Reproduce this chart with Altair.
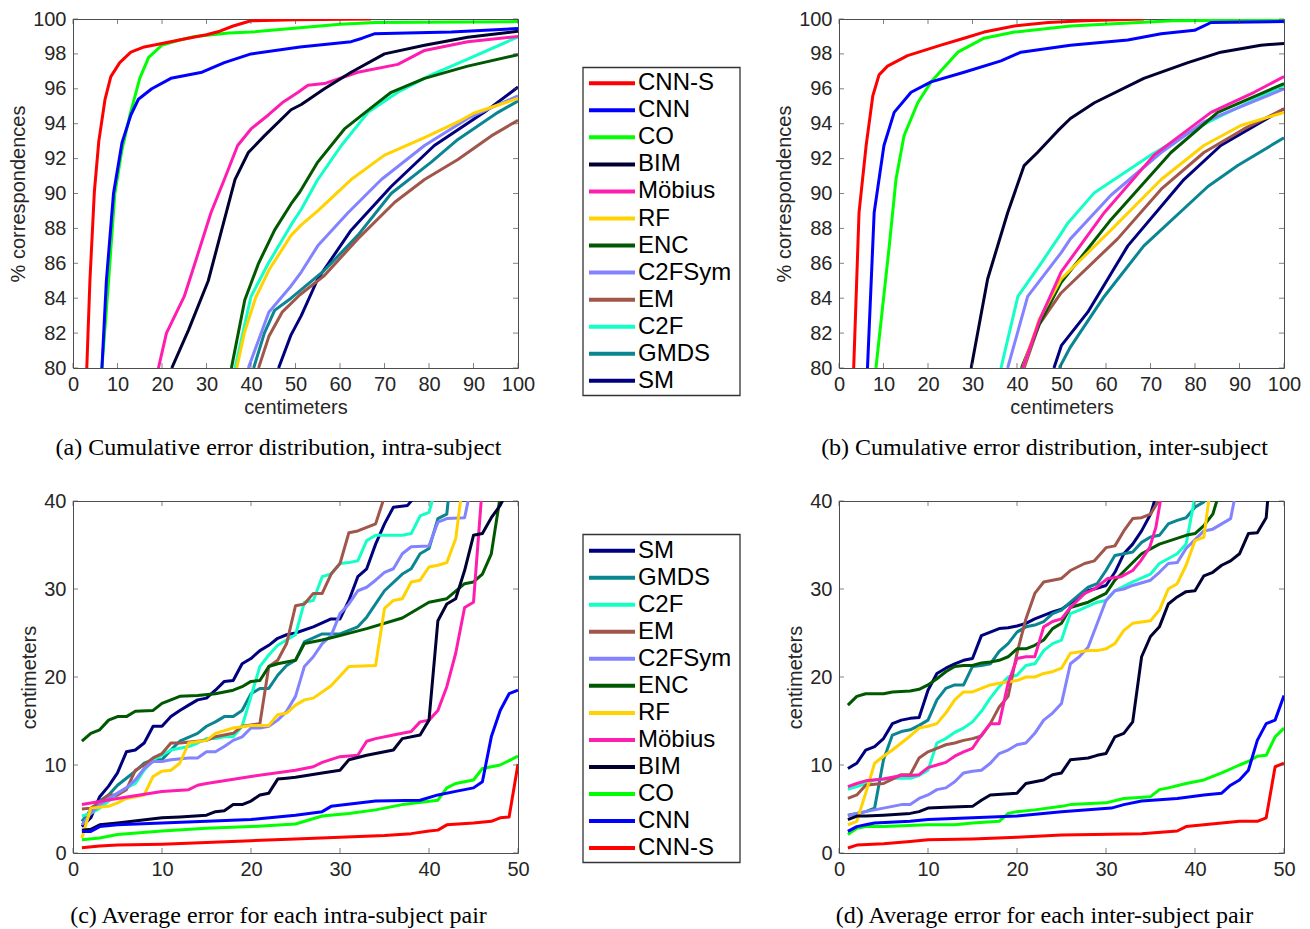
import altair as alt
import pandas as pd

METHODS = ["CNN-S", "CNN", "CO", "BIM", "Möbius", "RF", "ENC", "C2FSym", "EM", "C2F", "GMDS", "SM"]
COLORS = ["#FF0000", "#0000FF", "#00FF00", "#000033", "#FF1DAF", "#FFD200", "#005800",
          "#8383FF", "#A0564A", "#14FFC6", "#0A8592", "#00007F"]
LEGEND_TOP = METHODS
LEGEND_BOTTOM = list(reversed(METHODS))

# ---------------- (a) cumulative error, intra-subject ----------------
A_CNNS = [(3.1, 80), (3.8, 85), (4.8, 90.1), (5.8, 93), (7.2, 95.4), (8.5, 96.7), (10.5, 97.5), (13, 98.1),
          (16, 98.4), (20, 98.6), (25, 98.85), (30, 99.1), (33, 99.3), (36, 99.6), (40, 99.9), (50, 99.95), (67, 100)]
A_CNN = [(6.5, 80), (7.5, 85), (9.1, 90), (11, 92.9), (13, 94.5), (14.7, 95.4), (17.7, 96), (22, 96.6), (29, 96.95),
         (34, 97.5), (40, 98), (51, 98.4), (62.5, 98.7), (65, 98.9), (67.7, 99.15), (75, 99.2), (85, 99.25), (100, 99.45)]
A_CO = [(6.5, 80), (8, 85), (9.4, 90), (11, 92.5), (12.8, 94.5), (15, 96.6), (17, 97.8), (20, 98.5), (24, 98.8),
        (27.4, 99), (35, 99.2), (40, 99.25), (51, 99.5), (60, 99.7), (68, 99.8), (100, 99.85)]
A_BIM = [(22.2, 80), (26, 82.2), (30.4, 85), (33.4, 87.9), (36.4, 90.8), (39.4, 92.35), (43, 93.3), (49, 94.8),
         (51.3, 95.1), (56.5, 96), (62.5, 96.95), (70, 98), (79, 98.5), (88.7, 98.95), (100, 99.3)]
A_MOB = [(19.2, 80), (21, 82), (25, 84.1), (27.4, 86), (31, 88.9), (34, 90.8), (37, 92.75), (40, 93.7), (43.9, 94.5),
         (47, 95.2), (50.6, 95.8), (52.8, 96.2), (56.5, 96.3), (64, 96.95), (73, 97.4), (79, 98.2), (88.7, 98.7), (100, 99.0)]
A_RF = [(36.8, 80), (38.5, 82), (41, 84), (44, 85.6), (47, 86.8), (49, 87.6), (51.3, 88.2), (55, 89.0), (62.5, 90.8),
        (70, 92.2), (79, 93.2), (86.5, 94.1), (90, 94.6), (100, 95.45)]
A_ENC = [(35.6, 80), (38.6, 83.9), (41.7, 86), (45.3, 87.9), (49, 89.4), (51, 90.1), (55, 91.8), (61, 93.7),
         (67.7, 95.05), (71.5, 95.8), (79, 96.6), (88.7, 97.3), (100, 97.95)]
A_C2FSYM = [(39.4, 80), (44, 83.2), (49, 84.7), (51.3, 85.5), (55, 87), (61.8, 88.9), (69.3, 90.8), (79, 92.75),
            (88.7, 94.3), (100, 95.6)]
A_EM = [(41.7, 80), (44, 81.8), (47, 83.2), (51, 84.2), (56.5, 85.3), (64, 87.4), (72.3, 89.5), (79, 90.8),
        (86.5, 91.95), (94, 93.3), (100, 94.2)]
A_C2F = [(36.4, 80), (40, 84.1), (43.9, 86), (49, 88.2), (51.3, 89.1), (55, 90.8), (60.3, 92.75), (66.3, 94.65),
         (73, 95.8), (80.5, 96.8), (88.7, 97.7), (100, 98.97)]
A_GMDS = [(40.6, 80), (43, 82), (45.3, 83.3), (49, 84.0), (56.5, 85.6), (64, 87.6), (71.5, 90), (80.5, 91.8),
          (86.5, 93.1), (95.5, 94.65), (100, 95.3)]
A_SM = [(46.2, 80), (49, 81.9), (51.3, 83), (55, 85.1), (62.5, 87.9), (71.5, 90.4), (81.2, 92.75), (92.4, 94.65),
        (100, 96.1)]

# ---------------- (b) cumulative error, inter-subject ----------------
B_CNNS = [(3.3, 80), (4.5, 88.9), (6.1, 92.75), (7.6, 95.6), (9, 96.8), (10.9, 97.3), (15.4, 97.9), (22.9, 98.5),
          (28.1, 98.9), (32.6, 99.25), (39.4, 99.6), (47, 99.8), (55, 99.9), (68.5, 100)]
B_CNN = [(6.4, 80), (7.9, 88.9), (10.1, 92.75), (12.4, 94.65), (16.2, 95.8), (20.7, 96.4), (28.1, 96.95), (36.4, 97.6),
         (40.9, 98.1), (52, 98.5), (64.9, 98.8), (72.4, 99.15), (79.9, 99.35), (83.6, 99.8), (100, 99.85)]
B_CO = [(8.3, 80), (11.3, 87), (12.8, 90.8), (14.6, 93.3), (17.7, 95.2), (20.7, 96.4), (26.7, 98.1), (32.6, 98.9),
        (39.4, 99.25), (52, 99.6), (75, 99.9), (100, 99.95)]
B_BIM = [(29.7, 80), (33.4, 85.1), (37.9, 88.9), (41.6, 91.6), (44.6, 92.35), (49.2, 93.6), (52, 94.3), (57.4, 95.2),
         (68.5, 96.6), (78.4, 97.5), (85.8, 98.1), (94.8, 98.5), (100, 98.6)]
B_MOB = [(41.3, 80), (45, 82.7), (49.9, 85.5), (59.6, 88.9), (70.8, 92.2), (83.6, 94.65), (93.3, 95.8), (100, 96.7)]
B_RF = [(41.3, 80), (45, 82.8), (49.9, 85.1), (61.1, 87.9), (72.4, 90.8), (82, 92.75), (90.3, 93.9), (100, 94.65)]
B_ENC = [(41, 80), (45, 82.5), (49.9, 84.9), (61.1, 88.5), (74.6, 92.35), (85.1, 94.65), (100, 96.3)]
B_C2FSYM = [(37.9, 80), (42.4, 84.1), (49.9, 86.6), (52, 87.4), (61.1, 89.9), (72.4, 92.35), (82, 94.1), (100, 96.0)]
B_EM = [(41.6, 80), (45, 82.5), (49.9, 84.3), (62.6, 87.4), (72.4, 90.25), (82, 92.35), (91, 93.7), (100, 94.85)]
B_C2F = [(36.4, 80), (40.2, 84.1), (45.4, 86), (49.9, 87.7), (51.4, 88.3), (57.4, 90.05), (70.1, 92.2), (79.9, 93.7),
         (87.4, 94.65), (100, 96.2)]
B_GMDS = [(49.5, 80), (52, 81.2), (59.6, 84.1), (68.5, 87), (82.9, 90.4), (89.6, 91.6), (100, 93.2)]
B_SM = [(48.3, 80), (50, 81.3), (55.9, 83.2), (64.9, 87), (77.5, 90.8), (85.8, 92.75), (100, 94.85)]

# ---------------- (c) average error per intra-subject pair ----------------
C_CNNS = [(1, 0.6), (3, 0.8), (5, 0.9), (10, 1.0), (15, 1.2), (20, 1.4), (25, 1.6), (30, 1.8), (35, 2.0), (38, 2.2),
          (40, 2.5), (41, 2.6), (42, 3.2), (45, 3.4), (47, 3.6), (48, 4.0), (49, 4.1), (50, 10.1)]
C_CNN = [(1, 2.45), (2, 2.45), (3, 3.0), (5, 3.2), (10, 3.4), (15, 3.6), (20, 3.8), (25, 4.3), (28, 4.7), (29, 5.3),
         (34, 5.9), (39, 6.0), (41, 6.6), (43, 7.0), (45, 7.4), (46, 8.1), (47, 13.2), (48, 16.2), (49, 18.1), (50, 18.5)]
C_CO = [(1, 1.5), (3, 1.7), (5, 2.1), (10, 2.5), (15, 2.8), (20, 3.0), (25, 3.3), (28, 4.2), (31, 4.5), (34, 4.9),
        (37, 5.5), (41, 6.0), (42, 7.4), (43, 7.9), (45, 8.3), (46, 9.6), (48, 10.0), (49, 10.5), (50, 11.0)]
C_BIM = [(1, 2.6), (2, 2.7), (3, 3.2), (5, 3.4), (10, 4.0), (12, 4.1), (15, 4.3), (16, 4.7), (17, 4.8), (18, 5.5),
         (19, 5.5), (20, 5.9), (21, 6.6), (22, 6.8), (23, 8.4), (24, 8.5), (25, 8.6), (28, 9.1), (30, 9.4), (31, 10.6),
         (33, 11.1), (36, 11.7), (37, 13.0), (39, 13.4), (40, 15.1), (41, 26.4), (42, 28.3), (43, 28.9), (44, 32.1),
         (45, 36.1), (46, 36.3), (47, 38.1), (48, 39.5), (48.5, 40.5)]
C_MOB = [(1, 5.5), (5, 6.2), (10, 7.0), (13, 7.2), (14, 7.7), (15, 7.9), (20, 8.7), (25, 9.4), (27, 9.8), (28, 10.3),
         (30, 10.95), (32, 11.1), (33, 12.7), (34, 13.0), (36, 13.4), (38, 13.8), (39, 14.9), (40, 15.1), (41, 16.2),
         (42, 18.9), (43, 22.7), (44, 27.9), (45, 28.5), (45.9, 40.5)]
C_RF = [(1, 1.7), (2, 5.1), (4, 5.3), (5, 5.7), (6, 6.2), (8, 6.6), (9, 8.7), (10, 9.3), (11, 9.4), (12, 10.2),
        (13, 12.5), (15, 12.8), (16, 13.6), (18, 14.2), (20, 14.5), (22, 14.5), (23, 15.7), (24, 15.9), (25, 16.8),
        (26, 17.4), (27, 17.6), (29, 19.0), (31, 21.2), (34, 21.3), (35, 27.8), (36, 28.7), (37, 28.9), (38, 30.8),
        (39, 31.0), (40, 32.5), (41, 32.7), (42, 33.0), (43, 35.7), (43.6, 40.5)]
C_ENC = [(1, 12.7), (2, 13.6), (3, 14.0), (4, 15.1), (5, 15.5), (6, 15.5), (7, 16.1), (9, 16.2), (10, 17.0), (12, 17.8),
         (14, 17.9), (16, 18.1), (17, 18.3), (18, 18.5), (19, 18.9), (20, 19.5), (21, 19.6), (22, 21.2), (23, 21.5),
         (24, 21.7), (25, 21.9), (26, 23.8), (28, 24.2), (30, 24.7), (33, 25.5), (37, 26.7), (38, 27.3), (40, 28.5),
         (42, 28.9), (44, 30.6), (45, 30.8), (46, 31.7), (47, 34.0), (48, 40.5)]
C_C2FSYM = [(1, 3.2), (2, 4.5), (3, 5.5), (4, 6.2), (5, 6.8), (6, 7.4), (7, 8.3), (8, 9.6), (9, 10.4), (10, 10.4),
            (11, 10.6), (13, 10.8), (14, 10.8), (15, 11.5), (16, 11.5), (17, 12.1), (18, 12.8), (19, 13.2), (20, 14.2),
            (21, 14.2), (22, 14.4), (23, 15.1), (24, 16.1), (25, 17.8), (26, 21.2), (27, 22.3), (28, 23.8), (29, 24.7),
            (30, 27.2), (31, 28.3), (32, 29.8), (33, 30.2), (34, 31.0), (35, 31.9), (36, 32.3), (37, 34.0), (38, 34.8),
            (40, 34.9), (41, 37.6), (42, 38.0), (44, 38.1), (44.5, 40.5)]
C_EM = [(1, 5.0), (2, 5.1), (3, 5.7), (4, 6.6), (5, 6.6), (6, 7.2), (7, 9.4), (8, 10.0), (9, 10.8), (10, 11.3),
        (11, 12.5), (12, 12.5), (14, 12.7), (15, 12.8), (16, 13.2), (18, 13.6), (19, 14.4), (21, 14.7), (22, 21.2),
        (23, 21.9), (24, 23.8), (25, 28.1), (26, 28.3), (27, 29.5), (28, 29.5), (29, 31.7), (30, 32.9), (31, 36.4),
        (32, 36.6), (34, 37.4), (35, 40.5)]
C_C2F = [(1, 4.2), (2, 4.5), (3, 5.1), (4, 5.9), (5, 6.6), (6, 7.4), (7, 7.9), (8, 9.4), (9, 10.6), (10, 11.1),
         (11, 11.7), (12, 11.9), (13, 12.1), (14, 12.5), (15, 13.0), (16, 13.0), (17, 13.2), (18, 13.2), (19, 14.4),
         (21, 21.2), (22, 22.5), (23, 23.6), (25, 24.8), (26, 28.5), (27, 28.7), (28, 31.4), (29, 31.7), (30, 32.9),
         (31, 33.0), (32, 33.2), (33, 35.5), (34, 36.1), (37, 36.1), (38, 36.3), (39, 38.3), (40, 38.7), (40.5, 40.5)]
C_GMDS = [(1, 3.6), (2, 4.9), (3, 5.9), (4, 6.6), (5, 7.7), (6, 8.5), (7, 9.3), (8, 10.2), (9, 10.6), (10, 10.6),
          (11, 11.7), (12, 12.7), (14, 13.6), (15, 14.4), (16, 14.9), (17, 15.5), (18, 15.5), (19, 16.2), (20, 18.1),
          (21, 18.7), (22, 18.7), (23, 20.2), (24, 21.3), (25, 21.9), (26, 24.0), (28, 24.9), (30, 24.9), (32, 25.7),
          (33, 26.8), (34, 28.3), (35, 29.8), (37, 31.7), (38, 32.3), (39, 34.0), (40, 34.6), (41, 38.0), (42, 38.5),
          (42.2, 40.5)]
C_SM = [(1, 3.0), (2, 4.0), (3, 6.4), (4, 7.6), (5, 9.1), (6, 11.5), (7, 11.7), (8, 12.5), (9, 14.4), (10, 14.4),
        (11, 15.5), (12, 16.2), (13, 16.8), (14, 17.4), (15, 17.6), (16, 18.5), (17, 19.5), (18, 19.6), (19, 21.5),
        (20, 22.1), (21, 23.0), (22, 23.6), (23, 24.4), (24, 24.8), (25, 25.0), (27, 25.7), (29, 26.6), (30, 26.6),
        (31, 28.7), (32, 31.4), (33, 32.3), (34, 35.1), (35, 37.4), (36, 39.3), (37.6, 39.5), (38.4, 40.5)]

# ---------------- (d) average error per inter-subject pair ----------------
D_CNNS = [(1, 0.57), (2, 0.9), (5, 1.06), (8, 1.3), (10, 1.5), (15, 1.6), (20, 1.8), (25, 2.05), (34, 2.2), (38, 2.5),
          (39, 3.0), (41, 3.2), (45, 3.6), (47, 3.6), (48, 4.0), (49, 9.8), (50, 10.2)]
D_CNN = [(1, 2.45), (2, 3.0), (3, 3.2), (4, 3.4), (8, 3.6), (10, 3.8), (15, 4.0), (20, 4.2), (25, 4.7), (30.6, 5.1),
         (32, 5.5), (34, 5.9), (38, 6.2), (41, 6.6), (43, 6.8), (44, 7.7), (45, 8.3), (46, 9.4), (47, 12.8), (48, 14.7),
         (49, 15.1), (50, 17.9)]
D_CO = [(1, 2.1), (2, 2.8), (3, 3.0), (5, 3.0), (10, 3.2), (13, 3.2), (15, 3.4), (18, 3.6), (19, 4.5), (20, 4.7),
        (22, 4.9), (25, 5.3), (26, 5.5), (30, 5.7), (32, 6.2), (35, 6.4), (36, 7.2), (37, 7.4), (39, 7.9), (41, 8.3),
        (43, 9.1), (45, 10.0), (46, 10.4), (47, 11.0), (48, 11.1), (49, 13.2), (50, 14.2)]
D_BIM = [(1, 3.8), (2, 4.2), (3, 4.2), (5, 4.3), (8, 4.5), (9, 4.7), (10, 5.1), (12, 5.2), (15, 5.3), (16, 6.0),
         (17, 6.6), (20, 6.8), (21, 7.9), (22, 8.1), (23, 8.3), (24, 8.9), (25, 9.1), (26, 10.6), (28, 10.8), (29, 11.1),
         (30, 11.3), (31, 13.2), (32, 13.6), (33, 14.9), (34, 22.3), (35, 24.6), (36, 25.7), (37, 28.3), (38, 29.1),
         (39, 29.7), (40, 29.8), (41, 31.5), (42, 31.9), (43, 32.7), (44, 33.2), (45, 34.0), (46, 36.3), (47, 36.4),
         (48, 38.1), (48.2, 40.5)]
D_MOB = [(1, 7.55), (2, 7.9), (3, 8.2), (5, 8.4), (7, 8.8), (8, 8.8), (9, 8.9), (10, 9.7), (11, 10.0), (12, 10.3),
         (13, 11.0), (14, 11.5), (15, 11.9), (16, 13.4), (17, 14.7), (18, 14.7), (19, 19.3), (20, 22.1), (21, 22.3),
         (22, 22.3), (23, 25.7), (24, 26.3), (25, 26.6), (26, 27.9), (27.6, 29.5), (28.7, 30.0), (30.2, 31.2),
         (31.7, 31.4), (33, 32.1), (33.9, 33.2), (34.9, 34.7), (35.6, 37.0), (36.2, 40.5)]
D_RF = [(1, 3.2), (2, 3.6), (3, 6.8), (4, 10.2), (5, 11.0), (6, 11.7), (7, 12.5), (8, 13.3), (9, 14.2), (10, 14.4),
        (11, 14.7), (12, 15.9), (13, 17.4), (14, 18.3), (15, 18.3), (16, 18.7), (17, 19.1), (18, 19.3), (20, 19.6),
        (21, 20.0), (22, 20.0), (23, 20.4), (24, 20.6), (25, 21.0), (26, 22.7), (28, 23.0), (29, 23.0), (30, 23.2),
        (31, 23.8), (32, 25.3), (33, 26.1), (35, 26.4), (36, 27.6), (37, 30.0), (38, 30.6), (39, 32.7), (40, 35.5),
        (41, 35.9), (41.6, 40.5)]
D_ENC = [(1, 16.8), (2, 17.8), (3, 18.1), (5, 18.1), (6, 18.3), (8, 18.4), (9, 18.6), (10, 19.1), (11, 19.8),
         (12, 20.6), (13, 21.2), (14, 21.3), (15, 21.3), (16, 21.6), (17, 21.7), (18, 21.9), (19, 22.3), (20, 23.2),
         (21, 23.2), (22, 23.6), (23, 24.2), (24, 25.5), (25, 26.1), (26, 27.9), (28, 28.5), (30, 29.5), (31, 31.0),
         (34, 34.0), (36, 35.1), (39, 36.1), (40, 36.3), (41, 37.2), (42, 38.5), (42.6, 40.5)]
D_C2FSYM = [(1, 4.2), (2, 4.5), (3, 4.7), (4, 4.9), (5, 5.1), (6, 5.3), (7, 5.5), (8, 5.5), (9, 6.2), (10, 6.6),
            (11, 7.2), (12, 7.4), (13, 8.1), (14, 9.1), (15, 9.3), (16, 9.4), (17, 10.2), (18, 11.3), (19, 11.7),
            (20, 12.3), (21, 12.5), (22, 13.6), (23, 15.1), (24, 15.9), (25, 17.0), (26, 21.5), (27, 22.3), (28, 23.4),
            (30, 28.7), (31, 29.8), (32, 30.0), (33, 30.4), (35, 31.0), (36, 31.9), (37, 32.9), (38, 33.0), (39, 34.6),
            (41, 36.6), (42, 36.8), (44, 38.0), (44.5, 40.5)]
D_EM = [(1, 6.2), (2, 6.6), (3, 7.7), (4, 7.8), (5, 7.9), (6, 8.4), (7, 8.9), (8, 8.9), (9, 10.8), (10, 11.5),
        (11, 11.9), (12, 12.3), (13, 12.5), (14, 12.8), (15, 13.0), (16, 13.3), (17, 14.7), (18, 16.6), (19, 17.8),
        (20, 22.7), (21, 26.6), (22, 29.5), (23, 30.8), (24, 31.0), (25, 31.2), (26, 32.1), (27.6, 32.9),
        (28.7, 33.2), (30, 34.7), (31, 34.9), (32, 36.6), (33, 38.0), (34, 38.1), (35, 38.5), (36.2, 40.5)]
D_C2F = [(1, 7.25), (2, 7.55), (3, 7.9), (4, 8.3), (6, 8.5), (8, 8.5), (9, 8.8), (10, 9.4), (11, 12.5), (12, 13.0),
         (13, 13.7), (14, 14.2), (15, 14.9), (16, 16.1), (17, 17.6), (18, 18.9), (19, 20.0), (20, 20.2), (21, 21.3),
         (22, 21.5), (23, 23.0), (24, 23.8), (25, 24.2), (26, 27.2), (27, 27.6), (29, 28.5), (30, 28.7), (31, 29.8),
         (33, 30.8), (35, 31.7), (36, 32.9), (38, 34.0), (39, 35.1), (40, 40.5)]
D_GMDS = [(1, 4.3), (2, 4.5), (3, 4.7), (4, 5.1), (5, 10.6), (6, 13.4), (7, 13.8), (8, 14.0), (9, 14.5), (10, 15.1),
          (11, 17.4), (12, 18.7), (13, 19.1), (14, 19.1), (15, 21.2), (16, 21.3), (17, 21.5), (18, 22.9), (19, 23.8),
          (20, 25.1), (21, 25.7), (22, 25.9), (23, 26.3), (24, 27.2), (25, 27.6), (26, 28.5), (28, 30.2), (29, 30.6),
          (30, 32.1), (31, 33.8), (33, 34.2), (34, 35.3), (35, 35.9), (36, 36.1), (37, 37.4), (38, 37.8), (39, 38.1),
          (40, 39.3), (41, 39.9), (41.5, 40.5)]
D_SM = [(1, 9.6), (2, 10.2), (3, 11.7), (4, 12.1), (5, 13.0), (6, 14.7), (7, 15.1), (8, 15.3), (9, 15.4), (10, 18.5),
        (11, 20.4), (12, 21.0), (13, 21.5), (14, 21.9), (15, 22.1), (16, 24.7), (17, 25.1), (18, 25.5), (19, 25.6),
        (20, 25.8), (21, 26.1), (22, 26.6), (23, 27.0), (24, 27.4), (25, 27.7), (27, 29.1), (28, 29.8), (30, 30.4),
        (31, 31.9), (32, 34.0), (33, 35.1), (34, 36.6), (35, 38.5), (35.6, 40.5)]

SERIES_A = dict(zip(METHODS, [A_CNNS, A_CNN, A_CO, A_BIM, A_MOB, A_RF, A_ENC, A_C2FSYM, A_EM, A_C2F, A_GMDS, A_SM]))
SERIES_B = dict(zip(METHODS, [B_CNNS, B_CNN, B_CO, B_BIM, B_MOB, B_RF, B_ENC, B_C2FSYM, B_EM, B_C2F, B_GMDS, B_SM]))
SERIES_C = dict(zip(METHODS, [C_CNNS, C_CNN, C_CO, C_BIM, C_MOB, C_RF, C_ENC, C_C2FSYM, C_EM, C_C2F, C_GMDS, C_SM]))
SERIES_D = dict(zip(METHODS, [D_CNNS, D_CNN, D_CO, D_BIM, D_MOB, D_RF, D_ENC, D_C2FSYM, D_EM, D_C2F, D_GMDS, D_SM]))

CDF_XTICKS = [0, 10, 20, 30, 40, 50, 60, 70, 80, 90, 100]
CDF_YTICKS = [80, 82, 84, 86, 88, 90, 92, 94, 96, 98, 100]
PAIR_XTICKS = [0, 10, 20, 30, 40, 50]
PAIR_YTICKS = [0, 10, 20, 30, 40]

CAP_A = "(a) Cumulative error distribution, intra-subject"
CAP_B = "(b) Cumulative error distribution, inter-subject"
CAP_C = "(c) Average error for each intra-subject pair"
CAP_D = "(d) Average error for each inter-subject pair"

FRAME = "#4d4d4d"
W = 445
H1 = 349
H2 = 352
MID_W = 321

color_enc = alt.Color("method:N", scale=alt.Scale(domain=METHODS, range=COLORS), legend=None)


def to_frame(series):
    rows = []
    for m in reversed(METHODS):
        for i, (x, y) in enumerate(series[m]):
            rows.append({"method": m, "x": x, "y": y, "i": i})
    return pd.DataFrame(rows)


def panel(series, xdom, ydom, xvals, yvals, H, xtitle, ytitle, caption, cap_dy):
    xs = alt.Scale(domain=xdom, nice=False, zero=False)
    ys = alt.Scale(domain=ydom, nice=False, zero=False)
    xax = alt.Axis(values=xvals, title=xtitle, format="d")
    yax = alt.Axis(values=yvals, title=ytitle, format="d")
    lines = alt.Chart(to_frame(series)).mark_line(clip=True, strokeWidth=3, strokeJoin="round").encode(
        x=alt.X("x:Q", scale=xs, axis=xax),
        y=alt.Y("y:Q", scale=ys, axis=yax),
        color=color_enc,
        order="i:Q",
    )
    xt = pd.DataFrame({"x": xvals})
    yt = pd.DataFrame({"y": yvals})
    tick_bottom = alt.Chart(xt).mark_tick(orient="vertical", size=5, thickness=1, color=FRAME).encode(
        x=alt.X("x:Q", scale=xs, axis=xax), y=alt.value(H - 2.5))
    tick_top = alt.Chart(xt).mark_tick(orient="vertical", size=5, thickness=1, color=FRAME).encode(
        x=alt.X("x:Q", scale=xs, axis=xax), y=alt.value(2.5))
    tick_left = alt.Chart(yt).mark_tick(orient="horizontal", size=5, thickness=1, color=FRAME).encode(
        y=alt.Y("y:Q", scale=ys, axis=yax), x=alt.value(2.5))
    tick_right = alt.Chart(yt).mark_tick(orient="horizontal", size=5, thickness=1, color=FRAME).encode(
        y=alt.Y("y:Q", scale=ys, axis=yax), x=alt.value(W - 2.5))
    cap = alt.Chart(pd.DataFrame({"t": [caption]})).mark_text(
        font="Liberation Serif", fontSize=24, align="center", baseline="alphabetic", color="black"
    ).encode(x=alt.value(W / 2 - 17), y=alt.value(H + cap_dy), text="t:N")
    return alt.layer(lines, tick_bottom, tick_top, tick_left, tick_right, cap).properties(width=W, height=H)


def legend_panel(order, H, box_top, box_h, first_y, step):
    n = len(order)
    df = pd.DataFrame({"method": order, "k": list(range(n))})
    ks = alt.Scale(domain=[0, n - 1], range=[first_y, first_y + step * (n - 1)])
    box = alt.Chart(pd.DataFrame({"b": [0]})).mark_rect(fill="white", stroke="#333333", strokeWidth=1.3).encode(
        x=alt.value(65), x2=alt.value(222), y=alt.value(box_top), y2=alt.value(box_top + box_h))
    rules = alt.Chart(df).mark_rule(strokeWidth=4).encode(
        x=alt.value(71), x2=alt.value(117), y=alt.Y("k:Q", scale=ks, axis=None), color=color_enc)
    labels = alt.Chart(df).mark_text(align="left", baseline="middle", fontSize=24, font="Liberation Sans",
                                     color="black").encode(
        x=alt.value(120), y=alt.Y("k:Q", scale=ks, axis=None), text="method:N")
    return alt.layer(box, rules, labels).properties(
        width=MID_W, height=H, view=alt.ViewBackground(stroke="transparent"))


pa = panel(SERIES_A, [0, 100], [80, 100], CDF_XTICKS, CDF_YTICKS, H1, "centimeters", "% correspondences", CAP_A, 87)
pb = panel(SERIES_B, [0, 100], [80, 100], CDF_XTICKS, CDF_YTICKS, H1, "centimeters", "% correspondences", CAP_B, 87)
pc = panel(SERIES_C, [0, 50], [0, 40], PAIR_XTICKS, PAIR_YTICKS, H2, "", "centimeters", CAP_C, 70)
pd_ = panel(SERIES_D, [0, 50], [0, 40], PAIR_XTICKS, PAIR_YTICKS, H2, "", "centimeters", CAP_D, 70)

leg_top = legend_panel(LEGEND_TOP, H1, 48.5, 328, 64.2, 27.06)
leg_bot = legend_panel(LEGEND_BOTTOM, H2, 33.5, 328, 49.7, 27.03)

chart = alt.concat(
    pa, leg_top, pb, pc, leg_bot, pd_,
    columns=3, spacing=alt.RowColnumber(row=133, column=0), bounds="flush", align="each",
).properties(padding=0)
chart = chart.configure_view(stroke=FRAME, strokeWidth=1).configure_axis(
    labelFont="Liberation Sans", titleFont="Liberation Sans", labelFontSize=20, titleFontSize=20,
    labelColor="#262626", titleColor="#262626", titleFontWeight="normal",
    ticks=False, domain=False, grid=False, labelFlush=False, labelOverlap=False,
).configure_axisX(labelPadding=6, titlePadding=3).configure_axisY(labelPadding=7, titlePadding=4)

chart.save("out.html", embed_options={"renderer": "svg", "actions": False})
